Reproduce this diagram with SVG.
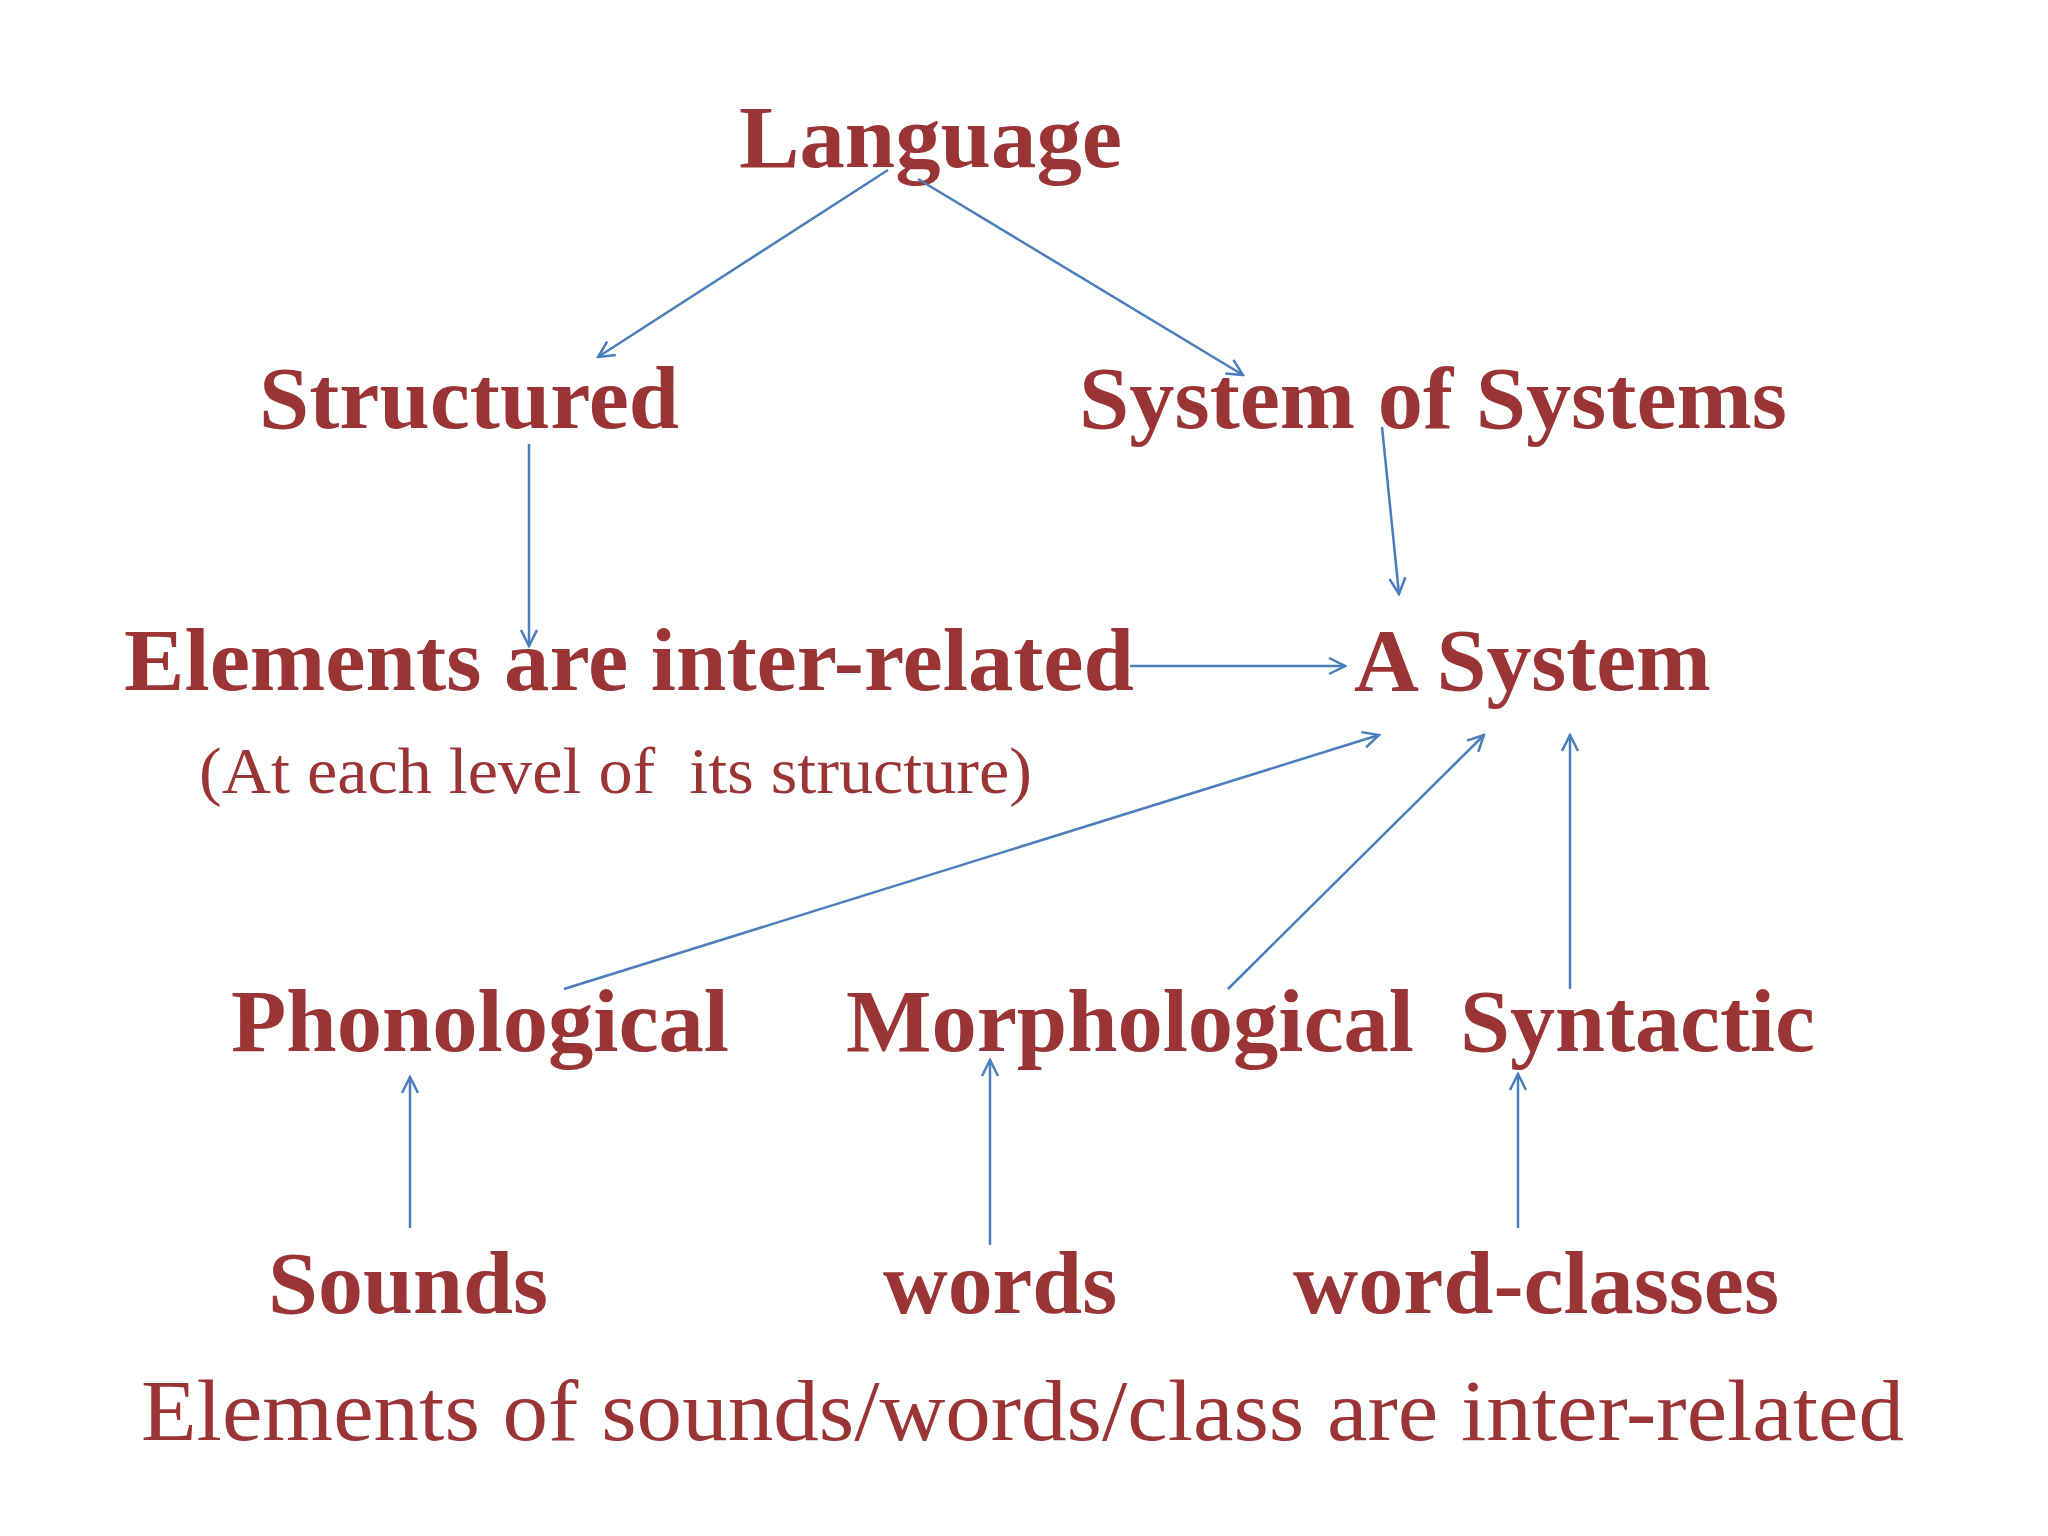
<svg xmlns="http://www.w3.org/2000/svg" width="2048" height="1536" viewBox="0 0 2048 1536">
<defs>
<marker id="ah" viewBox="0 0 20 20" refX="18" refY="10" markerWidth="20" markerHeight="20" markerUnits="userSpaceOnUse" orient="auto">
<path d="M2,2 L18,10 L2,18" fill="none" stroke="#4a7ebb" stroke-width="2.5"/>
</marker>
<style>
.b{font-family:"Liberation Serif",serif;font-weight:bold;font-size:88px;fill:#9b3535}
.r{font-family:"Liberation Serif",serif;font-size:66px;fill:#9b3535}
.r2{font-family:"Liberation Serif",serif;font-size:86px;fill:#9b3535}
line{stroke:#4a7ebb;stroke-width:2.5;marker-end:url(#ah)}
</style>
</defs>
<rect width="2048" height="1536" fill="#ffffff"/>
<g id="language"><text class="b" x="739" y="167" textLength="383" lengthAdjust="spacingAndGlyphs">Language</text></g>
<g id="structured"><text class="b" x="259" y="428" textLength="420" lengthAdjust="spacingAndGlyphs">Structured</text></g>
<g id="sos"><text class="b" x="1079" y="428" textLength="708" lengthAdjust="spacingAndGlyphs">System of Systems</text></g>
<g id="elements"><text class="b" x="124" y="690" textLength="1010" lengthAdjust="spacingAndGlyphs">Elements are inter-related</text>
<text class="r" x="199" y="793" textLength="833" lengthAdjust="spacingAndGlyphs" xml:space="preserve">(At each level of  its structure)</text></g>
<g id="asystem"><text class="b" x="1354" y="690" textLength="357" lengthAdjust="spacingAndGlyphs">A System</text></g>
<g id="phon"><text class="b" x="231" y="1051" textLength="498" lengthAdjust="spacingAndGlyphs">Phonological</text></g>
<g id="morph"><text class="b" x="846" y="1051" textLength="568" lengthAdjust="spacingAndGlyphs">Morphological</text></g>
<g id="synt"><text class="b" x="1460" y="1051" textLength="355" lengthAdjust="spacingAndGlyphs">Syntactic</text></g>
<g id="sounds"><text class="b" x="268" y="1313" textLength="280" lengthAdjust="spacingAndGlyphs">Sounds</text></g>
<g id="words"><text class="b" x="883" y="1313" textLength="234" lengthAdjust="spacingAndGlyphs">words</text></g>
<g id="wordclasses"><text class="b" x="1293" y="1313" textLength="486" lengthAdjust="spacingAndGlyphs">word-classes</text></g>
<g id="caption"><text class="r2" x="141" y="1440" textLength="1763" lengthAdjust="spacingAndGlyphs">Elements of sounds/words/class are inter-related</text></g>
<g id="connectors">
<line x1="888" y1="170" x2="598" y2="357"/>
<line x1="918" y1="179" x2="1243" y2="375"/>
<line x1="529" y1="444" x2="529" y2="646"/>
<line x1="1382" y1="427" x2="1399" y2="594"/>
<line x1="1130" y1="666" x2="1345" y2="666"/>
<line x1="564" y1="989" x2="1379" y2="735"/>
<line x1="1228" y1="989" x2="1484" y2="735"/>
<line x1="1570" y1="989" x2="1570" y2="735"/>
<line x1="410" y1="1228" x2="410" y2="1077"/>
<line x1="990" y1="1245" x2="990" y2="1060"/>
<line x1="1518" y1="1228" x2="1518" y2="1074"/>
</g>
</svg>
